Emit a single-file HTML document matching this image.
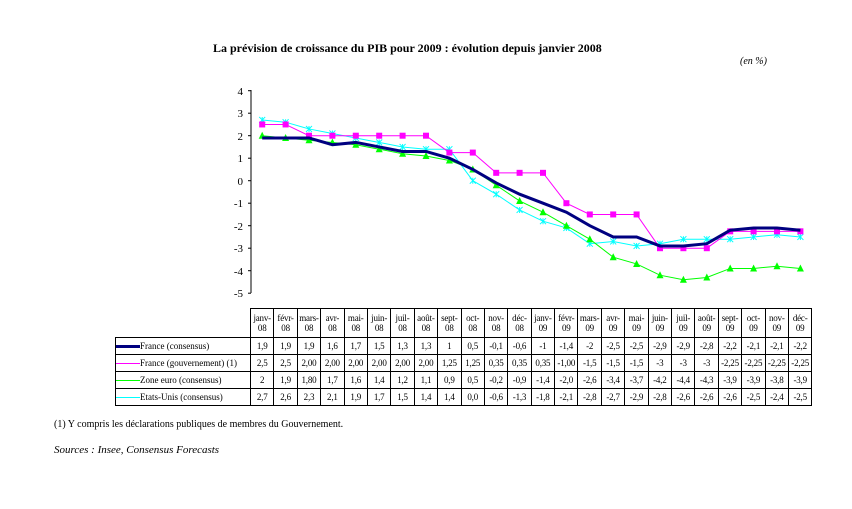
<!DOCTYPE html>
<html><head><meta charset="utf-8"><style>
body{margin:0;width:852px;height:509px;background:#fff;font-family:"Liberation Serif",serif;position:relative;overflow:hidden}
.t{position:absolute;white-space:nowrap;color:#000}
table{position:absolute;left:115px;top:308px;border-collapse:collapse;font-size:9px;table-layout:fixed;width:697px}
td{border:1px solid #000;padding:0;text-align:center;line-height:10px;overflow:hidden;white-space:nowrap;letter-spacing:-0.2px}
td.l{text-align:left;letter-spacing:0}
tr.h td{height:28px}
tr.d td{height:16px}
</style></head><body>
<div class="t" style="left:213px;top:41px;font-size:12px;font-weight:bold">La prévision de croissance du PIB pour 2009 : évolution depuis janvier 2008</div>
<div class="t" style="left:740px;top:56px;font-size:10px;font-style:italic">(en %)</div>
<svg id="s" width="852" height="509" style="position:absolute;left:0;top:0">
<g font-size="11" text-anchor="end" font-family="Liberation Serif">
<text x="243" y="95">4</text><text x="243" y="117">3</text><text x="243" y="140">2</text><text x="243" y="162">1</text><text x="243" y="185">0</text><text x="243" y="207">-1</text><text x="243" y="230">-2</text><text x="243" y="252">-3</text><text x="243" y="275">-4</text><text x="243" y="297">-5</text>
</g>
<g id="ax" stroke="#000" stroke-width="1"></g>
<g id="ser"></g>
</svg>
<table>
<colgroup><col style="width:135px"><col span="24" style="width:23.4px"></colgroup>
<tr class="h"><td class="l" style="border:none"></td><td>janv-<br>08</td><td>févr-<br>08</td><td>mars-<br>08</td><td>avr-<br>08</td><td>mai-<br>08</td><td>juin-<br>08</td><td>juil-<br>08</td><td>août-<br>08</td><td>sept-<br>08</td><td>oct-<br>08</td><td>nov-<br>08</td><td>déc-<br>08</td><td>janv-<br>09</td><td>févr-<br>09</td><td>mars-<br>09</td><td>avr-<br>09</td><td>mai-<br>09</td><td>juin-<br>09</td><td>juil-<br>09</td><td>août-<br>09</td><td>sept-<br>09</td><td>oct-<br>09</td><td>nov-<br>09</td><td>déc-<br>09</td></tr>
<tr class="d"><td class="l"><span style="display:inline-block;width:24px;height:3px;background:#000080;vertical-align:middle"></span>France (consensus)</td><td>1,9</td><td>1,9</td><td>1,9</td><td>1,6</td><td>1,7</td><td>1,5</td><td>1,3</td><td>1,3</td><td>1</td><td>0,5</td><td>-0,1</td><td>-0,6</td><td>-1</td><td>-1,4</td><td>-2</td><td>-2,5</td><td>-2,5</td><td>-2,9</td><td>-2,9</td><td>-2,8</td><td>-2,2</td><td>-2,1</td><td>-2,1</td><td>-2,2</td></tr>
<tr class="d"><td class="l"><span style="display:inline-block;width:24px;height:1px;background:#f0f;vertical-align:middle"></span>France (gouvernement) (1)</td><td>2,5</td><td>2,5</td><td>2,00</td><td>2,00</td><td>2,00</td><td>2,00</td><td>2,00</td><td>2,00</td><td>1,25</td><td>1,25</td><td>0,35</td><td>0,35</td><td>0,35</td><td>-1,00</td><td>-1,5</td><td>-1,5</td><td>-1,5</td><td>-3</td><td>-3</td><td>-3</td><td>-2,25</td><td>-2,25</td><td>-2,25</td><td>-2,25</td></tr>
<tr class="d"><td class="l"><span style="display:inline-block;width:24px;height:1px;background:#0f0;vertical-align:middle"></span>Zone euro (consensus)</td><td>2</td><td>1,9</td><td>1,80</td><td>1,7</td><td>1,6</td><td>1,4</td><td>1,2</td><td>1,1</td><td>0,9</td><td>0,5</td><td>-0,2</td><td>-0,9</td><td>-1,4</td><td>-2,0</td><td>-2,6</td><td>-3,4</td><td>-3,7</td><td>-4,2</td><td>-4,4</td><td>-4,3</td><td>-3,9</td><td>-3,9</td><td>-3,8</td><td>-3,9</td></tr>
<tr class="d"><td class="l"><span style="display:inline-block;width:24px;height:1px;background:#0ff;vertical-align:middle"></span>Etats-Unis (consensus)</td><td>2,7</td><td>2,6</td><td>2,3</td><td>2,1</td><td>1,9</td><td>1,7</td><td>1,5</td><td>1,4</td><td>1,4</td><td>0,0</td><td>-0,6</td><td>-1,3</td><td>-1,8</td><td>-2,1</td><td>-2,8</td><td>-2,7</td><td>-2,9</td><td>-2,8</td><td>-2,6</td><td>-2,6</td><td>-2,6</td><td>-2,5</td><td>-2,4</td><td>-2,5</td></tr>
</table>
<div class="t" style="left:54px;top:419px;font-size:10px">(1) Y compris les déclarations publiques de membres du Gouvernement.</div>
<div class="t" style="left:54px;top:444px;font-size:11px;font-style:italic">Sources : Insee, Consensus Forecasts</div>
<script>
var X0=250.5,W=23.4,Y0=180.7,U=22.5;
function px(i){return X0+W*(i+0.5)} function py(v){return Y0-v*U}
var ax='<line x1="251" y1="90" x2="251" y2="293"/>';
for(var k=-5;k<=4;k++)ax+='<line x1="248" x2="251" y1="'+py(k)+'" y2="'+py(k)+'"/>';
document.getElementById('ax').innerHTML=ax;
var F=[1.9,1.9,1.9,1.6,1.7,1.5,1.3,1.3,1,0.5,-0.1,-0.6,-1,-1.4,-2,-2.5,-2.5,-2.9,-2.9,-2.8,-2.2,-2.1,-2.1,-2.2];
var G=[2.5,2.5,2,2,2,2,2,2,1.25,1.25,0.35,0.35,0.35,-1,-1.5,-1.5,-1.5,-3,-3,-3,-2.25,-2.25,-2.25,-2.25];
var E=[2,1.9,1.8,1.7,1.6,1.4,1.2,1.1,0.9,0.5,-0.2,-0.9,-1.4,-2.0,-2.6,-3.4,-3.7,-4.2,-4.4,-4.3,-3.9,-3.9,-3.8,-3.9];
var S=[2.7,2.6,2.3,2.1,1.9,1.7,1.5,1.4,1.4,0,-0.6,-1.3,-1.8,-2.1,-2.8,-2.7,-2.9,-2.8,-2.6,-2.6,-2.6,-2.5,-2.4,-2.5];
function line(d,c,w){return '<polyline fill="none" stroke="'+c+'" stroke-width="'+w+'" points="'+d.map(function(v,i){return px(i)+','+py(v)}).join(' ')+'"/>'}
var h='';
h+=line(S,'#0ff',1);
S.forEach(function(v,i){var x=px(i),y=py(v);h+='<path d="M'+(x-3)+' '+(y-3)+'L'+(x+3)+' '+(y+3)+'M'+(x+3)+' '+(y-3)+'L'+(x-3)+' '+(y+3)+'M'+x+' '+(y-3)+'L'+x+' '+(y+3)+'" stroke="#0ff" stroke-width="1"/>'});
h+=line(G,'#f0f',1);
G.forEach(function(v,i){h+='<rect x="'+(px(i)-3)+'" y="'+(py(v)-3)+'" width="6" height="6" fill="#f0f"/>'});
h+=line(E,'#0f0',1);
E.forEach(function(v,i){var x=px(i),y=py(v);h+='<polygon points="'+x+','+(y-4)+' '+(x+3.5)+','+(y+3)+' '+(x-3.5)+','+(y+3)+'" fill="#0f0"/>'});
h+=line(F,'#000080',3);
document.getElementById('ser').innerHTML=h;
</script>
</body></html>
